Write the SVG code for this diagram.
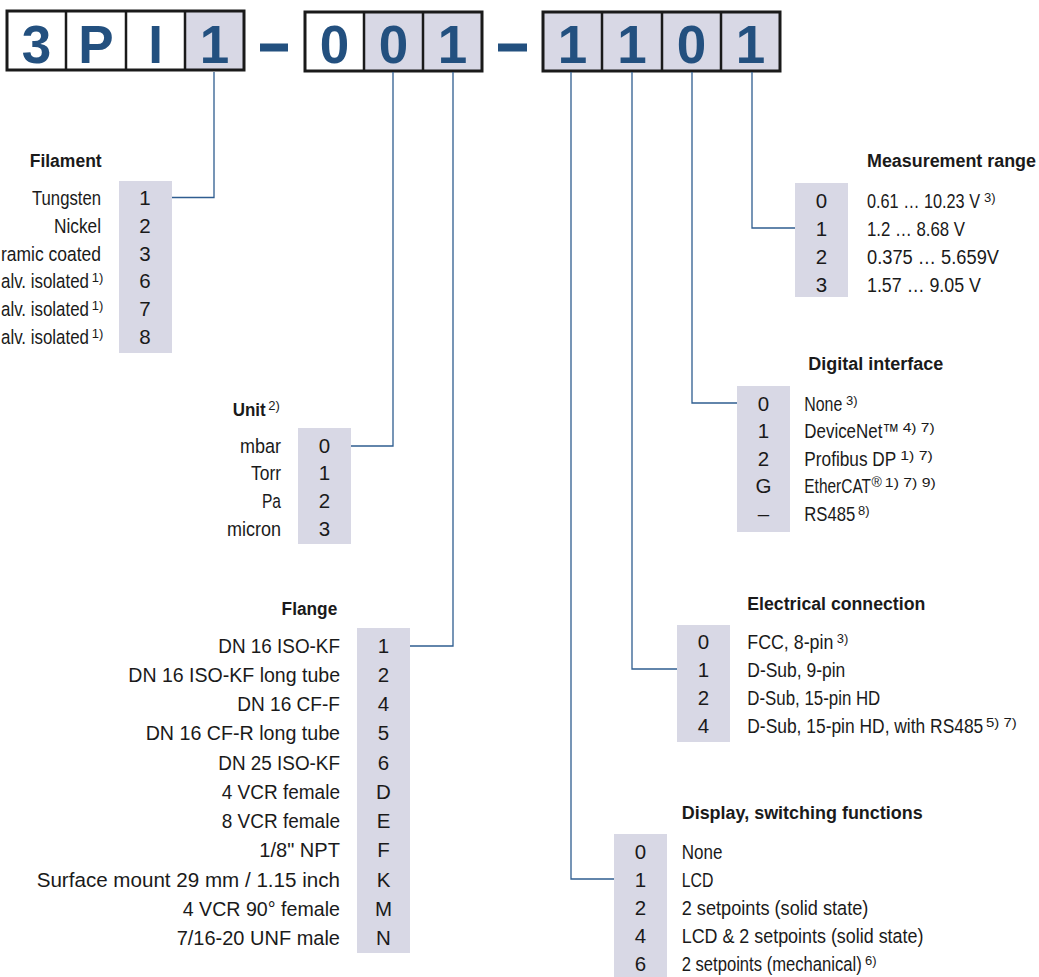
<svg xmlns="http://www.w3.org/2000/svg" width="1039" height="977" viewBox="0 0 1039 977">
<style>
.t{font-family:"Liberation Sans Narrow","Liberation Sans",Arial,sans-serif;font-size:20.5px;fill:#1a1a1a}
.h{font-family:"Liberation Sans",Arial,sans-serif;font-size:17.5px;font-weight:bold;fill:#1a1a1a}
.s{font-family:"Liberation Sans Narrow","Liberation Sans",Arial,sans-serif;font-size:13px;font-weight:normal;fill:#1a1a1a}
.n{text-anchor:middle}
.r{text-anchor:end}
.col{fill:#d8d8e5}
.conn{fill:none;stroke:#2f5d90;stroke-width:1.3}
.code{font-family:"Liberation Sans",Arial,sans-serif;font-weight:bold;font-size:53px;fill:#23507f;text-anchor:middle}
.frame{fill:none;stroke:#1a1a1a;stroke-width:3}
.div{stroke:#1a1a1a;stroke-width:2.5}
.dash{fill:#23507f}
</style>
<g id="code">
  <rect class="col" x="185" y="11" width="59" height="59"/>
  <rect class="col" x="364" y="12" width="118" height="59"/>
  <rect class="col" x="543" y="12" width="237" height="59"/>
  <rect class="frame" x="7" y="11" width="237" height="59"/>
  <line class="div" x1="66" y1="11" x2="66" y2="70"/>
  <line class="div" x1="126" y1="11" x2="126" y2="70"/>
  <line class="div" x1="185" y1="11" x2="185" y2="70"/>
  <rect class="frame" x="305" y="12" width="177" height="59"/>
  <line class="div" x1="364" y1="12" x2="364" y2="71"/>
  <line class="div" x1="423" y1="12" x2="423" y2="71"/>
  <rect class="frame" x="543" y="12" width="237" height="59"/>
  <line class="div" x1="602" y1="12" x2="602" y2="71"/>
  <line class="div" x1="662" y1="12" x2="662" y2="71"/>
  <line class="div" x1="721" y1="12" x2="721" y2="71"/>
  <text class="code" x="36.5" y="63">3</text>
  <text class="code" x="96" y="63">P</text>
  <text class="code" x="155.5" y="63">I</text>
  <text class="code" x="214.5" y="63">1</text>
  <rect class="dash" x="260" y="43.5" width="28" height="8"/>
  <text class="code" x="334.5" y="63">0</text>
  <text class="code" x="393.5" y="63">0</text>
  <text class="code" x="452.5" y="63">1</text>
  <rect class="dash" x="498" y="43.5" width="29" height="8"/>
  <text class="code" x="572.5" y="63">1</text>
  <text class="code" x="632" y="63">1</text>
  <text class="code" x="691.5" y="63">0</text>
  <text class="code" x="750.5" y="63">1</text>
</g>
<g id="connectors">
  <path class="conn" d="M214,72 V197.5 H172"/>
  <path class="conn" d="M393,72 V446 H351"/>
  <path class="conn" d="M453,72 V646 H410"/>
  <path class="conn" d="M571,72 V879 H614"/>
  <path class="conn" d="M632,72 V669 H677"/>
  <path class="conn" d="M692,72 V403 H737"/>
  <path class="conn" d="M752,72 V228 H795"/>
</g>
<g id="filament">
  <rect class="col" x="119" y="181" width="53" height="172"/>
  <text class="h r" x="101.7" y="167" textLength="72" lengthAdjust="spacingAndGlyphs">Filament</text>
  <text class="t r" x="101" y="205" textLength="69" lengthAdjust="spacingAndGlyphs">Tungsten</text>
  <text class="t r" x="101" y="232.8" textLength="47" lengthAdjust="spacingAndGlyphs">Nickel</text>
  <text class="t r" x="101" y="260.6" textLength="100" lengthAdjust="spacingAndGlyphs">ramic coated</text>
  <text class="t" x="1" y="288.4"><tspan textLength="88" lengthAdjust="spacingAndGlyphs">alv. isolated</tspan><tspan class="s" dx="2.7" dy="-6">1)</tspan></text>
  <text class="t" x="1" y="316.2"><tspan textLength="88" lengthAdjust="spacingAndGlyphs">alv. isolated</tspan><tspan class="s" dx="2.7" dy="-6">1)</tspan></text>
  <text class="t" x="1" y="344"><tspan textLength="88" lengthAdjust="spacingAndGlyphs">alv. isolated</tspan><tspan class="s" dx="2.7" dy="-6">1)</tspan></text>
  <text class="t n" x="145" y="205">1</text>
  <text class="t n" x="145" y="232.8">2</text>
  <text class="t n" x="145" y="260.6">3</text>
  <text class="t n" x="145" y="288.4">6</text>
  <text class="t n" x="145" y="316.2">7</text>
  <text class="t n" x="145" y="344">8</text>
</g>
<g id="measurement-range">
  <rect class="col" x="795" y="183" width="53" height="114"/>
  <text class="h" x="867" y="167" textLength="169" lengthAdjust="spacingAndGlyphs">Measurement range</text>
  <text class="t n" x="821.5" y="207.5">0</text>
  <text class="t n" x="821.5" y="235.5">1</text>
  <text class="t n" x="821.5" y="263.5">2</text>
  <text class="t n" x="821.5" y="291.5">3</text>
  <text class="t" x="867" y="207.5"><tspan textLength="113" lengthAdjust="spacingAndGlyphs">0.61 … 10.23 V</tspan><tspan class="s" dx="4" dy="-6">3)</tspan></text>
  <text class="t" x="867" y="235.5" textLength="98" lengthAdjust="spacingAndGlyphs">1.2 … 8.68 V</text>
  <text class="t" x="867" y="263.5" textLength="132" lengthAdjust="spacingAndGlyphs">0.375 … 5.659V</text>
  <text class="t" x="867" y="291.5" textLength="114" lengthAdjust="spacingAndGlyphs">1.57 … 9.05 V</text>
</g>
<g id="unit">
  <rect class="col" x="298" y="428" width="53" height="116"/>
  <text class="h" x="232.7" y="415.5"><tspan textLength="33" lengthAdjust="spacingAndGlyphs">Unit</tspan><tspan class="s" dx="2.6" dy="-6">2)</tspan></text>
  <text class="t r" x="281" y="452.5" textLength="41" lengthAdjust="spacingAndGlyphs">mbar</text>
  <text class="t r" x="281" y="480.2" textLength="30" lengthAdjust="spacingAndGlyphs">Torr</text>
  <text class="t r" x="281" y="507.9" textLength="19" lengthAdjust="spacingAndGlyphs">Pa</text>
  <text class="t r" x="281" y="535.6" textLength="54" lengthAdjust="spacingAndGlyphs">micron</text>
  <text class="t n" x="324.5" y="452.5">0</text>
  <text class="t n" x="324.5" y="480.2">1</text>
  <text class="t n" x="324.5" y="507.9">2</text>
  <text class="t n" x="324.5" y="535.6">3</text>
</g>
<g id="digital-interface">
  <rect class="col" x="737" y="386" width="53" height="146"/>
  <text class="h" x="808.3" y="369.5" textLength="135" lengthAdjust="spacingAndGlyphs">Digital interface</text>
  <text class="t n" x="763.5" y="410.5">0</text>
  <text class="t n" x="763.5" y="438.1">1</text>
  <text class="t n" x="763.5" y="465.7">2</text>
  <text class="t n" x="763.5" y="493.3">G</text>
  <text class="t n" x="763.5" y="520.9">–</text>
  <text class="t" x="804.3" y="410.5"><tspan textLength="38" lengthAdjust="spacingAndGlyphs">None</tspan><tspan class="s" dx="3.7" dy="-6">3)</tspan></text>
  <text class="t" x="804.3" y="438.1"><tspan textLength="95" lengthAdjust="spacingAndGlyphs">DeviceNet™</tspan><tspan class="s" dx="3.4" dy="-6" textLength="32" lengthAdjust="spacingAndGlyphs">4) 7)</tspan></text>
  <text class="t" x="804.3" y="465.7"><tspan textLength="92" lengthAdjust="spacingAndGlyphs">Profibus DP</tspan><tspan class="s" dx="4" dy="-6" textLength="32.6" lengthAdjust="spacingAndGlyphs">1) 7)</tspan></text>
  <text class="t" x="804.3" y="493.3"><tspan textLength="66.7" lengthAdjust="spacingAndGlyphs">EtherCAT</tspan><tspan class="s" dx="0.5" dy="-6" style="font-size:14px">®</tspan><tspan class="s" dx="3" textLength="51" lengthAdjust="spacingAndGlyphs">1) 7) 9)</tspan></text>
  <text class="t" x="804.3" y="520.9"><tspan textLength="51" lengthAdjust="spacingAndGlyphs">RS485</tspan><tspan class="s" dx="2.7" dy="-6">8)</tspan></text>
</g>
<g id="flange">
  <rect class="col" x="357" y="628" width="53" height="325"/>
  <text class="h r" x="337.3" y="614.5" textLength="55.7" lengthAdjust="spacingAndGlyphs">Flange</text>
  <text class="t r" x="340" y="652.5" textLength="121.7" lengthAdjust="spacingAndGlyphs">DN 16 ISO-KF</text>
  <text class="t r" x="340" y="681.75" textLength="211.7" lengthAdjust="spacingAndGlyphs">DN 16 ISO-KF long tube</text>
  <text class="t r" x="340" y="711" textLength="102.7" lengthAdjust="spacingAndGlyphs">DN 16 CF-F</text>
  <text class="t r" x="340" y="740.25" textLength="194.3" lengthAdjust="spacingAndGlyphs">DN 16 CF-R long tube</text>
  <text class="t r" x="340" y="769.5" textLength="121.7" lengthAdjust="spacingAndGlyphs">DN 25 ISO-KF</text>
  <text class="t r" x="340" y="798.75" textLength="118.3" lengthAdjust="spacingAndGlyphs">4 VCR female</text>
  <text class="t r" x="340" y="828" textLength="118.3" lengthAdjust="spacingAndGlyphs">8 VCR female</text>
  <text class="t r" x="340" y="857.25" textLength="80.7" lengthAdjust="spacingAndGlyphs">1/8" NPT</text>
  <text class="t r" x="340" y="886.5" textLength="303.3" lengthAdjust="spacingAndGlyphs">Surface mount 29 mm / 1.15 inch</text>
  <text class="t r" x="340" y="915.75" textLength="157.3" lengthAdjust="spacingAndGlyphs">4 VCR 90° female</text>
  <text class="t r" x="340" y="945" textLength="163.3" lengthAdjust="spacingAndGlyphs">7/16-20 UNF male</text>
  <text class="t n" x="383.5" y="652.5">1</text>
  <text class="t n" x="383.5" y="681.75">2</text>
  <text class="t n" x="383.5" y="711">4</text>
  <text class="t n" x="383.5" y="740.25">5</text>
  <text class="t n" x="383.5" y="769.5">6</text>
  <text class="t n" x="383.5" y="798.75">D</text>
  <text class="t n" x="383.5" y="828">E</text>
  <text class="t n" x="383.5" y="857.25">F</text>
  <text class="t n" x="383.5" y="886.5">K</text>
  <text class="t n" x="383.5" y="915.75">M</text>
  <text class="t n" x="383.5" y="945">N</text>
</g>
<g id="electrical-connection">
  <rect class="col" x="677" y="625" width="53" height="117"/>
  <text class="h" x="747.3" y="610" textLength="178" lengthAdjust="spacingAndGlyphs">Electrical connection</text>
  <text class="t n" x="703.5" y="648.5">0</text>
  <text class="t n" x="703.5" y="676.5">1</text>
  <text class="t n" x="703.5" y="704.5">2</text>
  <text class="t n" x="703.5" y="732.5">4</text>
  <text class="t" x="747.3" y="648.5"><tspan textLength="86" lengthAdjust="spacingAndGlyphs">FCC, 8-pin</tspan><tspan class="s" dx="3.4" dy="-6">3)</tspan></text>
  <text class="t" x="747.3" y="676.5" textLength="98" lengthAdjust="spacingAndGlyphs">D-Sub, 9-pin</text>
  <text class="t" x="747.3" y="704.5" textLength="133" lengthAdjust="spacingAndGlyphs">D-Sub, 15-pin HD</text>
  <text class="t" x="747.3" y="732.5"><tspan textLength="236" lengthAdjust="spacingAndGlyphs">D-Sub, 15-pin HD, with RS485</tspan><tspan class="s" dx="2.7" dy="-6" textLength="30.7" lengthAdjust="spacingAndGlyphs">5) 7)</tspan></text>
</g>
<g id="display-switching-functions">
  <rect class="col" x="614" y="834" width="53" height="143"/>
  <text class="h" x="681.7" y="819" textLength="241" lengthAdjust="spacingAndGlyphs">Display, switching functions</text>
  <text class="t n" x="640.5" y="858.5">0</text>
  <text class="t n" x="640.5" y="886.5">1</text>
  <text class="t n" x="640.5" y="914.5">2</text>
  <text class="t n" x="640.5" y="942.5">4</text>
  <text class="t n" x="640.5" y="970.5">6</text>
  <text class="t" x="681.7" y="858.5" textLength="40.7" lengthAdjust="spacingAndGlyphs">None</text>
  <text class="t" x="681.7" y="886.5" textLength="31.7" lengthAdjust="spacingAndGlyphs">LCD</text>
  <text class="t" x="681.7" y="914.5" textLength="186.7" lengthAdjust="spacingAndGlyphs">2 setpoints (solid state)</text>
  <text class="t" x="681.7" y="942.5" textLength="241.7" lengthAdjust="spacingAndGlyphs">LCD &amp; 2 setpoints (solid state)</text>
  <text class="t" x="681.7" y="970.5"><tspan textLength="180" lengthAdjust="spacingAndGlyphs">2 setpoints (mechanical)</tspan><tspan class="s" dx="3.3" dy="-6">6)</tspan></text>
</g>
</svg>
